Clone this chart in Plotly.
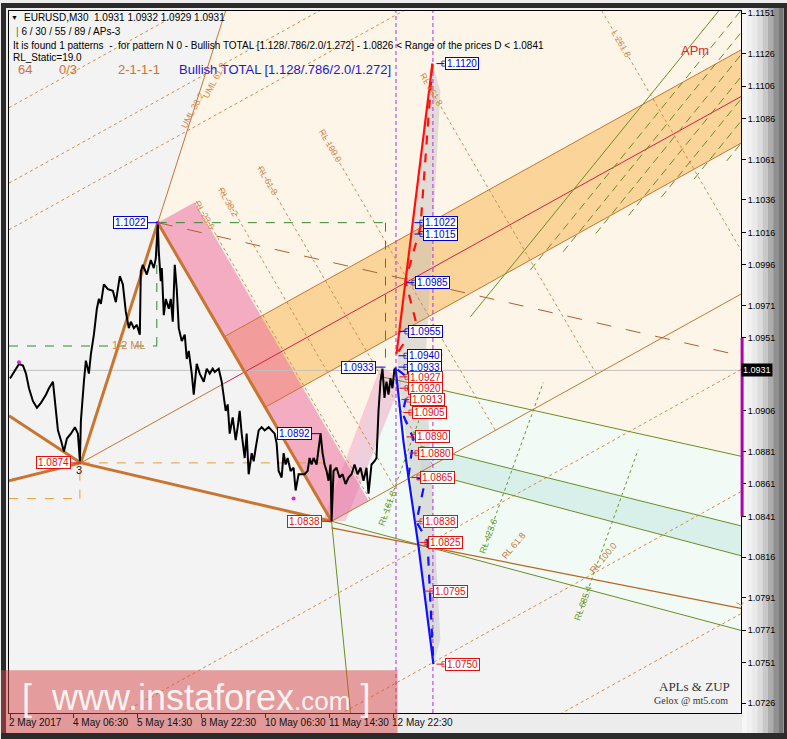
import plotly.graph_objects as go

# ---------------- data ----------------
bar_ticks = [0, 64, 128, 192, 256, 320, 384]
bar_tick_text = ["2 May 2017", "4 May 06:30", "5 May 14:30", "8 May 22:30",
                 "10 May 06:30", "11 May 14:30", "12 May 22:30"]
price_ticks = [1.1151, 1.1126, 1.1106, 1.1086, 1.1061, 1.1036, 1.1016, 1.0996,
               1.0971, 1.0951, 1.0906, 1.0881, 1.0861, 1.0841, 1.0816, 1.0791,
               1.0771, 1.0751, 1.0726]
last_price = 1.0931

price_bar = [0, 4, 9, 13, 16, 19, 23, 27, 31, 36, 39, 43, 46, 48, 51, 54, 57, 61, 65, 68,
             70, 71, 74, 76, 79, 81, 84, 87, 89, 91, 94, 98, 103, 106, 110, 113, 116, 119,
             121, 124, 127, 130, 131, 133, 137, 141, 144, 146, 148, 149, 151, 152, 154, 156,
             159, 161, 163, 165, 167, 169, 172, 175, 177, 179, 182, 184, 187, 190, 194, 197,
             200, 203, 205, 209, 212, 214, 216, 218, 220, 223, 226, 228, 230, 232, 235, 237,
             239, 242, 244, 246, 249, 252, 255, 259, 262, 265, 267, 269, 272, 274, 276, 278,
             281, 284, 286, 289, 292, 295, 298, 300, 302, 304, 307, 309, 311, 313, 315, 317,
             319, 321, 322, 324, 327, 330, 333, 336, 339, 342, 345, 348, 351, 354, 357, 359,
             362, 365, 367, 369, 371, 373, 375, 377, 379, 381, 383, 385, 387]
price_val = [1.0926, 1.0930, 1.0935, 1.0934, 1.0929, 1.0920, 1.0912, 1.0908, 1.0911, 1.0916,
             1.0920, 1.0924, 1.0908, 1.0894, 1.0888, 1.0881, 1.0889, 1.0892, 1.0896, 1.0892,
             1.0875, 1.0900, 1.0924, 1.0937, 1.0929, 1.0941, 1.0953, 1.0969, 1.0975, 1.0972,
             1.0984, 1.0981, 1.0980, 1.0973, 1.0989, 1.0984, 1.0967, 1.0957, 1.0961, 1.0957,
             1.0959, 1.0953, 1.0992, 1.0996, 1.0990, 1.0999, 1.0994, 1.1000, 1.1022, 1.1004,
             1.0986, 1.0994, 1.0965, 1.0975, 1.0969, 1.0975, 1.0961, 1.0996, 1.0981, 1.0957,
             1.0949, 1.0953, 1.0938, 1.0943, 1.0929, 1.0916, 1.0935, 1.0929, 1.0924, 1.0932,
             1.0929, 1.0932, 1.0930, 1.0932, 1.0924, 1.0914, 1.0906, 1.0910, 1.0892, 1.0902,
             1.0888, 1.0896, 1.0906, 1.0892, 1.0877, 1.0892, 1.0867, 1.0880, 1.0875, 1.0883,
             1.0894, 1.0896, 1.0894, 1.0896, 1.0894, 1.0892, 1.0886, 1.0869, 1.0865, 1.0880,
             1.0873, 1.0877, 1.0869, 1.0871, 1.0857, 1.0867, 1.0867, 1.0867, 1.0869, 1.0877,
             1.0873, 1.0877, 1.0873, 1.0883, 1.0892, 1.0880, 1.0873, 1.0869, 1.0863, 1.0873,
             1.0838, 1.0869, 1.0871, 1.0865, 1.0867, 1.0861, 1.0865, 1.0867, 1.0873, 1.0867,
             1.0871, 1.0863, 1.0871, 1.0855, 1.0873, 1.0875, 1.0877, 1.0906, 1.0924, 1.0932,
             1.0914, 1.0924, 1.0916, 1.0926, 1.0920, 1.0932, 1.0931]

# pivot points (bar, price) of the Andrews pitchfork "APm"
piv3 = (71, 1.0874)
pivA = (148, 1.1022)
pivB = (322, 1.0838)
band_k = 0.236
warn_k = [-2.0, -1.618, -1.382, 1.382, 2.0, 2.618]
rl_k = [0.236, 0.382, 0.618, 1.0, 1.618, 2.618]
rl_names = ["RL 23.6", "RL 38.2", "RL 61.8", "RL 100.0", "RL 161.8", "L 261.8"]

# second (green) set of lines
green_anchor = (461, 1.0964)
green_slope = 0.0000758
green_offsets = [22, 40, 58, 76, 94, 112, 130]
green_rl_bar = [378, 479, 574]
green_rl_val = [1.08462, 1.0829, 1.07876]
green_rl_names = ["RL 161.8", "RL 423.6", "RL 685.4"]
green_rl_slope = 0.0001718
brown_rl_bar = [504, 594]
brown_rl_val = [1.08229, 1.08156]
brown_rl_names = ["RL 61.8", "RL 100.0"]

mint_bar = [322, 732, 732, 371]
mint_val = [1.0838, 1.07708, 1.08781, 1.09272]
teal_bar = [411, 732, 732, 411]
teal_val = [1.08843, 1.08352, 1.08168, 1.0869]
pink2_bar = [313, 336, 393, 371]
pink2_val = [1.0838, 1.0838, 1.09254, 1.09334]
zup_bar = [388, 423, 431, 416, 431, 424, 389]
zup_val = [1.0941, 1.1120, 1.1103, 1.0935, 1.0765, 1.0750, 1.0928]

heavy_lines = [((-1, 1.0903), piv3), ((-1, 1.0863), piv3), (piv3, pivA), (pivA, pivB), (piv3, pivB)]
olive_lines = [((322, 1.0838), (341, 1.0720)), ((322, 1.0838), (732, 1.07708)),
               ((371, 1.09272), (732, 1.08781)), ((411, 1.08843), (732, 1.08352)),
               ((411, 1.0869), (732, 1.08168))]
brown_lines = [((322, 1.0834), (732, 1.07843))]
brown_dash = [((148, 1.1022), (732, 1.0940))]
green_dash = [((-1, 1.0946), (147, 1.0946)), ((147, 1.0946), (147, 1.1022)),
              ((148, 1.1022), (376, 1.1022)), ((376, 1.1022), (376, 1.0935))]
orange_dash = [((71, 1.0874), (322, 1.0874)), ((-1, 1.0852), (70, 1.0852)), ((70, 1.0852), (70, 1.0874))]

red_solid_bar = [387, 423]
red_solid_val = [1.0941, 1.1120]
red_dash_bar = [389, 407, 396, 411, 423]
red_dash_val = [1.09426, 1.09597, 1.09861, 1.10193, 1.1120]
blue_solid_bar = [386, 394, 399, 409, 424]
blue_solid_val = [1.09328, 1.08873, 1.08653, 1.08229, 1.0750]
blue_dash_bar = [388, 401, 393, 404, 399, 416, 407, 418, 424]
blue_dash_val = [1.09315, 1.09254, 1.09045, 1.0889, 1.08653, 1.0864, 1.08377, 1.0826, 1.0750]
vlines_bar = [386.5, 423.5]

blue_levels = [1.1120, 1.1022, 1.1015, 1.0985, 1.0955, 1.0940, 1.0933]
blue_label_bar = [436, 414, 414, 406, 399, 398, 398]
red_levels = [1.0927, 1.0920, 1.0913, 1.0905, 1.0890, 1.0880, 1.0865, 1.0838, 1.0825, 1.0795, 1.0750]
red_label_bar = [399, 399, 401, 403, 406, 409, 411, 414, 419, 424, 436]
left_levels = [1.1022, 1.0933, 1.0892, 1.0874, 1.0838]
left_piv_bar = [148, 376, 312, 71, 322]
left_kind = ["b", "b", "b", "r", "r"]

X0, X1 = -1, 732
Y0, Y1 = 1.07199, 1.11524

# ---------------- pitchfork geometry ----------------
mid = ((pivA[0] + pivB[0]) / 2.0, (pivA[1] + pivB[1]) / 2.0)
m_slope = (mid[1] - piv3[1]) / (mid[0] - piv3[0])
tine_off = pivB[1] - (piv3[1] + m_slope * (pivB[0] - piv3[0]))
ab_slope = (pivB[1] - pivA[1]) / (pivB[0] - pivA[0])

def fork(k, b):
    return piv3[1] + m_slope * (b - piv3[0]) + k * tine_off

def fork_cross(k, p, s):
    c = piv3[1] - m_slope * piv3[0] + k * tine_off
    d = p[1] - s * p[0]
    return (d - c) / (m_slope - s)

# ---------------- figure ----------------
fig = go.Figure()

def poly(bx, vy, color):
    fig.add_trace(go.Scatter(x=list(bx) + [bx[0]], y=list(vy) + [vy[0]], mode="lines", fill="toself",
                             fillcolor=color, line=dict(width=0), hoverinfo="skip"))

def seg(p, q, color, width=1, dash="solid"):
    fig.add_trace(go.Scatter(x=[p[0], q[0]], y=[p[1], q[1]], mode="lines",
                             line=dict(color=color, width=width, dash=dash), hoverinfo="skip"))

b_top = pivA[0] + (Y1 - pivA[1]) / ((pivA[1] - piv3[1]) / (pivA[0] - piv3[0]))
poly([pivA[0], b_top, X1, X1, pivB[0]], [pivA[1], Y1, Y1, 1.07708, pivB[1]], "#fdf5e8")
poly(mint_bar, mint_val, "#f1faf4")
poly(teal_bar, teal_val, "#d9efe9")
bu = fork_cross(-band_k, pivA, ab_slope)
bl = fork_cross(band_k, pivA, ab_slope)
poly([bu, X1, X1, bl], [fork(-band_k, bu), fork(-band_k, X1), fork(band_k, X1), fork(band_k, bl)], "#fbd49a")
pink_w = 37
pink_bar = [pivA[0], pivA[0] + pink_w, pivB[0] + pink_w, pivB[0]]
pink_val = [pivA[1], fork(-1, pivA[0] + pink_w), pivB[1] + m_slope * pink_w, pivB[1]]
poly(pink_bar, pink_val, "rgba(236,105,160,0.52)")
poly(pink2_bar, pink2_val, "rgba(236,110,165,0.3)")
poly(zup_bar, zup_val, "rgba(190,190,190,0.45)")

seg((X0, last_price), (X1, last_price), "#c0c0c0", 1)

for k in rl_k:
    c = (mid[0] + k * (mid[0] - piv3[0]), mid[1] + k * (mid[1] - piv3[1]))
    b1 = fork_cross(-1, c, ab_slope)
    b2 = fork_cross(1, c, ab_slope)
    seg((b1, c[1] + ab_slope * (b1 - c[0])), (b2, c[1] + ab_slope * (b2 - c[0])), "#d48a4c", 1, "3px,3px")
for k in warn_k:
    seg((X0, fork(k, X0)), (X1, fork(k, X1)), "#d98a45", 1, "3px,3px")
seg(piv3, (bu, fork(0, bu)), "#c8752f", 1)
seg((bu, fork(0, bu)), (X1, fork(0, X1)), "#d42040", 1)
seg((bu, fork(-band_k, bu)), (X1, fork(-band_k, X1)), "#c8752f", 1)
seg((bl, fork(band_k, bl)), (X1, fork(band_k, X1)), "#c8752f", 1)
seg(pivB, (X1, fork(1, X1)), "#c8752f", 1)
seg(pivA, (b_top, Y1), "#c8752f", 1)

gb_end = green_anchor[0] + (Y1 - green_anchor[1]) / green_slope
seg(green_anchor, (gb_end, Y1), "#6b8e23", 1)
for off in green_offsets:
    p = (green_anchor[0] + off, green_anchor[1])
    c_lo = piv3[1] - m_slope * piv3[0] + (band_k + 0.05) * tine_off
    c_hi = piv3[1] - m_slope * piv3[0] + (-band_k - 0.25) * tine_off
    d = p[1] - green_slope * p[0]
    b_lo = (d - c_lo) / (m_slope - green_slope)
    b_hi = (d - c_hi) / (m_slope - green_slope)
    seg((b_lo, p[1] + green_slope * (b_lo - p[0])), (b_hi, p[1] + green_slope * (b_hi - p[0])),
        "#6b8e23", 1, "8px,5px")
for gb, gv in zip(green_rl_bar, green_rl_val):
    seg((gb - 4, gv - green_rl_slope * 4), (gb + 55, gv + green_rl_slope * 55), "#5f9a2a", 1, "3px,3px")

for a, b in olive_lines:
    seg(a, b, "#6b8e23", 1)
for a, b in brown_lines:
    seg(a, b, "#b8651f", 1.2)
for a, b in brown_dash:
    seg(a, b, "#b0602a", 1, "longdash")
for a, b in green_dash:
    seg(a, b, "#2e8b2e", 1, "dash")
for a, b in orange_dash:
    seg(a, b, "#e8a030", 1, "dash")
for a, b in heavy_lines:
    seg(a, b, "#c8752f", 3)

for vb in vlines_bar:
    seg((vb, Y0), (vb, Y1), "#b030e0", 1, "4px,3px")

fig.add_trace(go.Scatter(x=price_bar, y=price_val, mode="lines",
                         line=dict(color="black", width=2), hoverinfo="skip"))
fig.add_trace(go.Scatter(x=[9, 284, 148], y=[1.0936, 1.0852, 1.1022], mode="markers",
                         marker=dict(color="#e020e0", size=4), hoverinfo="skip"))

fig.add_trace(go.Scatter(x=red_dash_bar, y=red_dash_val, mode="lines",
                         line=dict(color="#ff1010", width=2.2, dash="dash"), hoverinfo="skip"))
fig.add_trace(go.Scatter(x=red_solid_bar, y=red_solid_val, mode="lines",
                         line=dict(color="#ff1010", width=2.2), hoverinfo="skip"))
fig.add_trace(go.Scatter(x=blue_dash_bar, y=blue_dash_val, mode="lines",
                         line=dict(color="#1010ff", width=2.2, dash="dash"), hoverinfo="skip"))
fig.add_trace(go.Scatter(x=blue_solid_bar, y=blue_solid_val, mode="lines",
                         line=dict(color="#1010ff", width=2.2), hoverinfo="skip"))

LBL = dict(family="Liberation Sans", size=10)
YSHIFT = {1.0927: -1}

def level_labels(levels, lbars, color):
    for lv, lb in zip(levels, lbars):
        fig.add_trace(go.Scatter(x=[lb - 9, lb - 1], y=[lv, lv], mode="lines+markers",
                                 line=dict(color=color, width=1),
                                 marker=dict(symbol="square-open", size=[0, 5], color=color),
                                 hoverinfo="skip"))
        fig.add_annotation(x=lb, y=lv, text=f"{lv:.4f}", showarrow=False, xanchor="left",
                           yanchor="middle", yshift=YSHIFT.get(lv, 0), font=dict(LBL, color=color),
                           height=9, bgcolor="white", bordercolor=color, borderwidth=1, borderpad=1)

level_labels(blue_levels, blue_label_bar, "#0000d0")
level_labels(red_levels, red_label_bar, "#e01010")

for lv, pb, k in zip(left_levels, left_piv_bar, left_kind):
    color = "#0000d0" if k == "b" else "#e01010"
    fig.add_trace(go.Scatter(x=[pb - 10, pb], y=[lv, lv], mode="lines",
                             line=dict(color=color, width=1), hoverinfo="skip"))
    fig.add_annotation(x=pb - 10, y=lv, text=f"{lv:.4f}", showarrow=False, xanchor="right",
                       yanchor="middle", font=dict(LBL, color=color), height=9,
                       bgcolor="white", bordercolor=color, borderwidth=1, borderpad=1)

# ---------------- layout ----------------
def PX(x):
    return (x - 8) / 733.0

def PY(y):
    return (713 - y) / 705.0

fig.update_layout(
    width=787, height=739, autosize=False,
    margin=dict(l=8, r=46, t=8, b=26),
    paper_bgcolor="#ececec", plot_bgcolor="#f3f3f3", showlegend=False,
    xaxis=dict(range=[X0, X1], showgrid=False, zeroline=False, tickvals=bar_ticks,
               ticks="outside", ticklen=4, tickcolor="black", showticklabels=False,
               showline=True, linecolor="black", linewidth=1, mirror=True),
    yaxis=dict(range=[Y0, Y1], side="right", tickvals=price_ticks,
               ticktext=[f"{v:.4f}" for v in price_ticks], ticks="outside", ticklen=4,
               tickcolor="black", showline=True, linecolor="black", linewidth=1, mirror=True,
               showgrid=False, zeroline=False,
               tickfont=dict(family="Liberation Sans", size=9, color="black")),
)

shapes = []
grad = ["#f6f6f6", "#f1f1f1", "#e9e9e9", "#dcdcdc", "#c8c8c8", "#adadad", "#909090", "#777777"]
for i, c in enumerate(grad):
    x0 = 742 + i * 5.2
    shapes.append(dict(type="rect", xref="paper", yref="paper", x0=PX(x0), x1=PX(x0 + 5.3),
                       y0=PY(733), y1=PY(5), fillcolor=c, line=dict(width=0), layer="below"))
for (a, b, c, d) in [(0, 787, 733, 739), (0, 787, 0, 5), (0, 5, 0, 739), (784, 787, 0, 739)]:
    shapes.append(dict(type="rect", xref="paper", yref="paper", x0=PX(a), x1=PX(b), y0=PY(d), y1=PY(c),
                       fillcolor="#2b2b2b", line=dict(width=0)))
shapes.append(dict(type="line", xref="paper", yref="y", x0=1.0015, x1=1.0015, y0=1.0841, y1=1.0951,
                   line=dict(color="#b000b0", width=3)))
shapes.append(dict(type="rect", xref="paper", yref="paper", x0=PX(0), x1=PX(397), y0=PY(733), y1=PY(670),
                   fillcolor="rgba(215,70,70,0.5)", line=dict(width=0)))
fig.update_layout(shapes=shapes)

ann = []
def txt(x, y, s, size=10, color="black", family="Liberation Sans", angle=0, xanchor="left"):
    ann.append(dict(xref="paper", yref="paper", x=PX(x - 3), y=PY(y), text=s, showarrow=False,
                    xanchor=xanchor, yanchor="middle", textangle=angle,
                    font=dict(family=family, size=size, color=color)))

txt(11, 15, "▼", 7)
txt(24, 15, "EURUSD,M30  1.0931 1.0932 1.0929 1.0931", 10)
txt(16, 29, "<span style='color:#2e8b2e'>|</span> 6 / 30 / 55 / 89 / APs-3", 10)
txt(13, 43, "It is found 1 patterns  -  for pattern N 0 - Bullish TOTAL [1.128/.786/2.0/1.272] - 1.0826 &lt; Range of the prices D &lt; 1.0841", 10)
txt(13, 55, "RL_Static=19.0", 10)
txt(18, 67, "64", 13, "#d2722e")
txt(59, 67, "0/3", 13, "#d2722e")
txt(118, 67, "2-1-1-1", 13, "#d2722e")
txt(179, 67, "Bullish TOTAL [1.128/.786/2.0/1.272]", 13, "#1a1ad0")
txt(682, 48, "APm", 13, "#e02828")
txt(112, 343, "1/2 ML", 11, "#d88a4a")
txt(76, 469, "3", 11, "#222222")
txt(660, 686, "APLs &amp; ZUP", 13, "#333333", "Liberation Serif")
txt(655, 700, "Gelox @ mt5.com", 10, "#333333", "Liberation Serif")
txt(178, 108, "UML 38.2", 9, "#d48a4c", angle=-62)
txt(200, 78, "UML 61.8", 9, "#d48a4c", angle=-62)
txt(735, 603, "L", 9, "#d48a4c", angle=-60)
for tb, tt in zip(bar_ticks, bar_tick_text):
    txt(tb + 9, 723, tt, 10, "#111111")
txt(22, 697, "[  www.instaforex<span style='font-size:26px'>.com</span> ]", 36, "rgba(255,255,255,0.9)")
for a in ann:
    fig.add_annotation(**a)

for k, nm in zip(rl_k, rl_names):
    c = (mid[0] + k * (mid[0] - piv3[0]), mid[1] + k * (mid[1] - piv3[1]))
    b1 = max(fork_cross(-1, c, ab_slope), c[0] + (Y1 - 0.0012 - c[1]) / ab_slope)
    fig.add_annotation(x=b1 + 8, y=c[1] + ab_slope * (b1 + 8 - c[0]), text=nm, showarrow=False,
                       textangle=60, font=dict(family="Liberation Sans", size=9, color="#d48a4c"))
for gb, gv, nm in zip(green_rl_bar, green_rl_val, green_rl_names):
    fig.add_annotation(x=gb, y=gv, text=nm, showarrow=False, textangle=-70,
                       font=dict(family="Liberation Sans", size=9, color="#6b9a30"))
for gb, gv, nm in zip(brown_rl_bar, brown_rl_val, brown_rl_names):
    fig.add_annotation(x=gb, y=gv, text=nm, showarrow=False, textangle=-50,
                       font=dict(family="Liberation Sans", size=9, color="#c87a3a"))

fig.add_annotation(xref="paper", yref="y", x=1.0, y=last_price, text="1.0931", showarrow=False,
                   xanchor="left", yanchor="middle", bgcolor="black", borderpad=1,
                   font=dict(family="Liberation Sans", size=9, color="white"))

fig.write_html("out.html", config={"displayModeBar": False},
               post_script="document.body.style.margin='0';document.body.style.overflow='hidden';")
